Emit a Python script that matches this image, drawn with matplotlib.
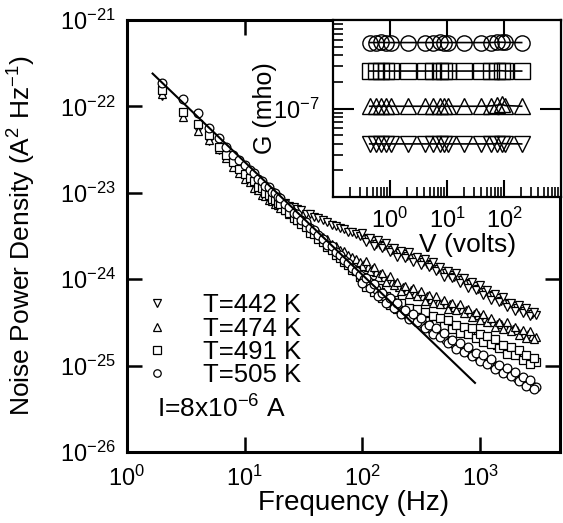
import numpy as np
import matplotlib
matplotlib.use('Agg')
import matplotlib.pyplot as plt
from matplotlib.ticker import LogLocator, NullLocator, FixedLocator

plt.rcParams['font.family'] = ['Liberation Sans', 'DejaVu Sans']
plt.rcParams['mathtext.fontset'] = 'custom'
plt.rcParams['mathtext.rm'] = 'Liberation Sans'
plt.rcParams['mathtext.it'] = 'Liberation Sans:italic'
plt.rcParams['mathtext.bf'] = 'Liberation Sans:bold'
plt.rcParams['axes.unicode_minus'] = False

# ---------------- main panel data (frequency in Hz, log10 of S in A^2/Hz) -------------
freq = [2, 3, 4, 5, 6, 7, 8, 9, 10, 11, 12, 13, 14, 15, 16, 17, 18, 19, 20, 22, 24, 26, 28,
        30, 33, 36, 39, 42, 46, 50, 55, 60, 65, 70, 76, 82, 89, 96, 104, 112, 121, 131,
        141, 152, 164, 177, 191, 206, 222, 240, 259, 280, 302, 326, 352, 380, 410, 443,
        478, 516, 557, 601, 649, 700, 756, 816, 881, 951, 1027, 1108, 1196, 1291, 1394,
        1505, 1624, 1753, 1893, 2043, 2206, 2381, 2570, 2775, 2995]

logS_442 = [-21.88, -22.10, -22.27, -22.40, -22.50, -22.59, -22.68, -22.75, -22.82, -22.86,
            -22.91, -22.94, -22.99, -23.00, -23.04, -23.05, -23.07, -23.09, -23.10, -23.12,
            -23.15, -23.17, -23.19, -23.20, -23.24, -23.25, -23.28, -23.29, -23.32, -23.34,
            -23.37, -23.38, -23.41, -23.42, -23.45, -23.45, -23.48, -23.50, -23.52, -23.54,
            -23.56, -23.59, -23.60, -23.62, -23.64, -23.66, -23.68, -23.70, -23.71, -23.73,
            -23.75, -23.76, -23.78, -23.80, -23.82, -23.84, -23.86, -23.88, -23.91, -23.93,
            -23.95, -23.97, -23.99, -24.01, -24.04, -24.06, -24.08, -24.11, -24.13, -24.15,
            -24.18, -24.20, -24.22, -24.25, -24.27, -24.29, -24.31, -24.33, -24.35, -24.37,
            -24.38, -24.40, -24.42]

logS_474 = [-21.86, -22.12, -22.29, -22.39, -22.49, -22.60, -22.70, -22.77, -22.84, -22.88,
            -22.94, -22.97, -23.02, -23.04, -23.08, -23.09, -23.13, -23.14, -23.18, -23.20,
            -23.25, -23.27, -23.31, -23.32, -23.38, -23.39, -23.44, -23.46, -23.51, -23.53,
            -23.59, -23.61, -23.66, -23.67, -23.72, -23.74, -23.77, -23.80, -23.82, -23.86,
            -23.88, -23.92, -23.94, -23.98, -24.00, -24.03, -24.05, -24.09, -24.09, -24.12,
            -24.13, -24.16, -24.17, -24.19, -24.20, -24.23, -24.23, -24.26, -24.27, -24.29,
            -24.29, -24.32, -24.32, -24.35, -24.36, -24.39, -24.40, -24.42, -24.44, -24.45,
            -24.48, -24.49, -24.52, -24.52, -24.55, -24.56, -24.58, -24.59, -24.62, -24.63,
            -24.64, -24.66, -24.67]

logS_491 = [-21.81, -22.06, -22.20, -22.33, -22.47, -22.56, -22.64, -22.72, -22.78, -22.83,
            -22.86, -22.93, -22.95, -23.00, -23.02, -23.07, -23.08, -23.12, -23.13, -23.20,
            -23.23, -23.29, -23.31, -23.36, -23.40, -23.46, -23.48, -23.54, -23.57, -23.63,
            -23.66, -23.72, -23.75, -23.80, -23.83, -23.89, -23.91, -23.97, -23.99, -24.05,
            -24.07, -24.13, -24.15, -24.21, -24.22, -24.27, -24.29, -24.32, -24.33, -24.36,
            -24.36, -24.39, -24.40, -24.42, -24.43, -24.46, -24.46, -24.49, -24.50, -24.52,
            -24.53, -24.56, -24.56, -24.59, -24.60, -24.62, -24.63, -24.65, -24.67, -24.68,
            -24.72, -24.72, -24.76, -24.77, -24.80, -24.81, -24.84, -24.85, -24.88, -24.89,
            -24.92, -24.94, -24.96]

logS_505 = [-21.73, -21.91, -22.08, -22.25, -22.37, -22.47, -22.56, -22.62, -22.68, -22.74,
            -22.77, -22.84, -22.86, -22.92, -22.93, -22.99, -23.00, -23.05, -23.06, -23.13,
            -23.16, -23.23, -23.25, -23.31, -23.34, -23.41, -23.43, -23.49, -23.53, -23.60,
            -23.62, -23.69, -23.72, -23.78, -23.81, -23.87, -23.90, -23.95, -24.00, -24.02,
            -24.09, -24.11, -24.17, -24.20, -24.26, -24.25, -24.30, -24.35, -24.37, -24.41,
            -24.42, -24.47, -24.48, -24.52, -24.54, -24.58, -24.59, -24.64, -24.65, -24.70,
            -24.71, -24.75, -24.76, -24.80, -24.81, -24.85, -24.86, -24.90, -24.90, -24.95,
            -24.95, -24.99, -25.01, -25.04, -25.05, -25.09, -25.10, -25.14, -25.15, -25.18,
            -25.19, -25.24, -25.25]

# extra (interleaved) high-frequency points that make the dense bands
freq_hi = [100, 108, 116, 126, 136, 146, 158, 170, 184, 198, 214, 231, 249, 269, 291, 314,
           339, 366, 395, 426, 460, 497, 536, 579, 625, 674, 728, 786, 848, 916, 989, 1067,
           1152, 1243, 1342, 1449, 1564, 1688, 1822, 1967, 2124, 2293, 2475, 2672, 2885]

logS_442_hi = [-23.46, -23.57, -23.52, -23.62, -23.55, -23.64, -23.58, -23.69, -23.64, -23.74,
               -23.67, -23.75, -23.69, -23.80, -23.74, -23.84, -23.77, -23.86, -23.80, -23.91,
               -23.86, -23.97, -23.90, -23.99, -23.93, -24.04, -23.99, -24.10, -24.03, -24.12,
               -24.07, -24.18, -24.13, -24.24, -24.17, -24.26, -24.21, -24.32, -24.27, -24.37,
               -24.30, -24.39, -24.33, -24.43, -24.38]

logS_474_hi = [-23.85, -23.79, -23.90, -23.86, -23.98, -23.93, -24.03, -23.96, -24.07, -24.03,
               -24.14, -24.08, -24.17, -24.10, -24.19, -24.14, -24.25, -24.18, -24.27, -24.20,
               -24.29, -24.24, -24.34, -24.28, -24.36, -24.29, -24.39, -24.34, -24.44, -24.38,
               -24.47, -24.40, -24.50, -24.45, -24.55, -24.49, -24.58, -24.50, -24.60, -24.55,
               -24.65, -24.59, -24.68, -24.60, -24.69]

logS_491_hi = [-23.97, -24.09, -24.04, -24.15, -24.10, -24.22, -24.19, -24.30, -24.24, -24.34,
               -24.28, -24.38, -24.33, -24.43, -24.35, -24.44, -24.38, -24.48, -24.43, -24.52,
               -24.45, -24.54, -24.47, -24.58, -24.53, -24.62, -24.55, -24.64, -24.57, -24.68,
               -24.63, -24.73, -24.66, -24.75, -24.69, -24.80, -24.76, -24.86, -24.79, -24.88,
               -24.82, -24.93, -24.88, -24.98, -24.91]

logS_505_hi = [-24.04, -23.99, -24.10, -24.06, -24.19, -24.16, -24.28, -24.22, -24.33, -24.28,
               -24.40, -24.36, -24.46, -24.40, -24.50, -24.45, -24.57, -24.53, -24.64, -24.57,
               -24.67, -24.62, -24.74, -24.70, -24.81, -24.74, -24.84, -24.78, -24.89, -24.85,
               -24.95, -24.88, -24.98, -24.92, -25.04, -24.99, -25.09, -25.03, -25.12, -25.07,
               -25.18, -25.13, -25.24, -25.17, -25.27]

fit_freq = [1.65, 905]
fit_logS = [-21.62, -25.20]

series_labels = ['T=442 K', 'T=474 K', 'T=491 K', 'T=505 K']

x_ticks = [1, 10, 100, 1000]
y_ticks = [1e-26, 1e-25, 1e-24, 1e-23, 1e-22, 1e-21]

# ---------------- inset data (V in volts, G in mho) -------------
inset_V = [0.44, 0.57, 0.69, 0.84, 1.03, 2.07, 4.1, 5.7, 7.5, 8.9, 10.4, 20, 39, 58, 76,
           92, 105, 204]
G_442 = [3.98e-8, 3.98e-8, 3.98e-8, 3.98e-8, 3.98e-8, 3.98e-8, 3.98e-8, 3.98e-8, 3.98e-8,
         3.98e-8, 3.98e-8, 3.98e-8, 3.98e-8, 3.98e-8, 4.0e-8, 4.02e-8, 4.0e-8, 3.98e-8]
G_474 = [1.06e-7, 1.06e-7, 1.06e-7, 1.06e-7, 1.06e-7, 1.06e-7, 1.06e-7, 1.06e-7, 1.06e-7,
         1.06e-7, 1.06e-7, 1.06e-7, 1.06e-7, 1.07e-7, 1.09e-7, 1.11e-7, 1.08e-7, 1.06e-7]
G_491 = [2.65e-7, 2.65e-7, 2.65e-7, 2.65e-7, 2.65e-7, 2.65e-7, 2.65e-7, 2.65e-7, 2.65e-7,
         2.65e-7, 2.65e-7, 2.65e-7, 2.65e-7, 2.65e-7, 2.67e-7, 2.67e-7, 2.65e-7, 2.65e-7]
G_505 = [5.56e-7, 5.56e-7, 5.58e-7, 5.56e-7, 5.56e-7, 5.56e-7, 5.56e-7, 5.56e-7, 5.58e-7,
         5.56e-7, 5.56e-7, 5.56e-7, 5.56e-7, 5.56e-7, 5.6e-7, 5.6e-7, 5.58e-7, 5.56e-7]

inset_x_ticks = [1, 10, 100]
inset_y_ticks = [1e-7]

markers = ['v', '^', 's', 'o']

# ---------------- figure -------------
W, H = 563, 523
fig = plt.figure(figsize=(W / 100, H / 100), dpi=100)

def frac(l, t, r, b):
    return [l / W, 1 - b / H, (r - l) / W, (b - t) / H]

ax = fig.add_axes(frac(127, 20, 560, 452))
ax.set_xscale('log')
ax.set_yscale('log')
ax.set_xlim(1, 4775)
ax.set_ylim(1e-26, 1e-21)

main_sets = [(logS_442, logS_442_hi), (logS_474, logS_474_hi),
             (logS_491, logS_491_hi), (logS_505, logS_505_hi)]
for (lo, hi), m, lab in zip(main_sets, markers, series_labels):
    fx = np.array(freq + freq_hi, dtype=float)
    sy = 10.0 ** np.array(lo + hi)
    ax.plot(fx, sy, linestyle='none', marker=m, markersize=6.3,
            markerfacecolor='white', markeredgecolor='black', markeredgewidth=0.9,
            label=lab)
ax.plot(fit_freq, 10.0 ** np.array(fit_logS), color='black', lw=1.5, zorder=5)

ax.xaxis.set_major_locator(FixedLocator(x_ticks))
ax.yaxis.set_major_locator(FixedLocator(y_ticks))
ax.xaxis.set_minor_locator(NullLocator())
ax.yaxis.set_minor_locator(NullLocator())
ax.tick_params(which='major', direction='in', length=11, width=1.8, top=True,
               right=True, labelsize=17)
ax.tick_params(axis='y', pad=8)
ax.tick_params(axis='x', pad=10)
for s in ax.spines.values():
    s.set_linewidth(2.2)

ax.set_xlabel('Frequency (Hz)', fontsize=20)
ax.xaxis.set_label_coords(0.524, -0.088)
ax.set_ylabel('Noise Power Density (A$^2$ Hz$^{-1}$)', fontsize=19)
ax.yaxis.set_label_coords(-0.205, 0.5)

leg = ax.legend(loc='upper left', bbox_to_anchor=(0.0455, 0.368), frameon=False,
                fontsize=18.5, handlelength=0.8, handletextpad=1.39, labelspacing=-0.02,
                borderpad=0, borderaxespad=0, markerscale=0.85)

ax.text(0.069, 0.079, 'I=8x10$^{-6}$ A', transform=ax.transAxes, fontsize=19,
        ha='left', va='baseline')

# ---------------- inset -------------
axi = fig.add_axes(frac(333, 20, 561, 197))
axi.set_xscale('log')
axi.set_yscale('log')
axi.set_xlim(0.1, 1000)
axi.set_ylim(1e-8, 1e-6)
for G, m in zip([G_442, G_474, G_491, G_505], markers):
    axi.plot(inset_V, G, color='black', lw=1.2, marker=m, markersize=11,
             markerfacecolor='none', markeredgecolor='black', markeredgewidth=1.0)

axi.xaxis.set_major_locator(FixedLocator(inset_x_ticks))
axi.yaxis.set_major_locator(FixedLocator(inset_y_ticks))
axi.xaxis.set_minor_locator(LogLocator(base=10, subs=np.arange(2, 10), numticks=20))
axi.yaxis.set_minor_locator(LogLocator(base=10, subs=np.arange(2, 10), numticks=20))
axi.tick_params(which='major', direction='in', length=12, width=1.5, top=True,
                right=True, labelsize=17)
axi.tick_params(which='minor', direction='in', length=7, width=1.2, top=False,
                right=False)
axi.tick_params(axis='y', which='major', length=15, pad=10)
axi.tick_params(axis='x', which='major', pad=8)
for s in axi.spines.values():
    s.set_linewidth(1.6)

axi.set_xlabel('V (volts)', fontsize=19)
axi.xaxis.set_label_coords(0.59, -0.205)
axi.set_ylabel('G (mho)', fontsize=18)
axi.yaxis.set_label_coords(-0.245, 0.5)

fig.savefig('out.png', dpi=100)
